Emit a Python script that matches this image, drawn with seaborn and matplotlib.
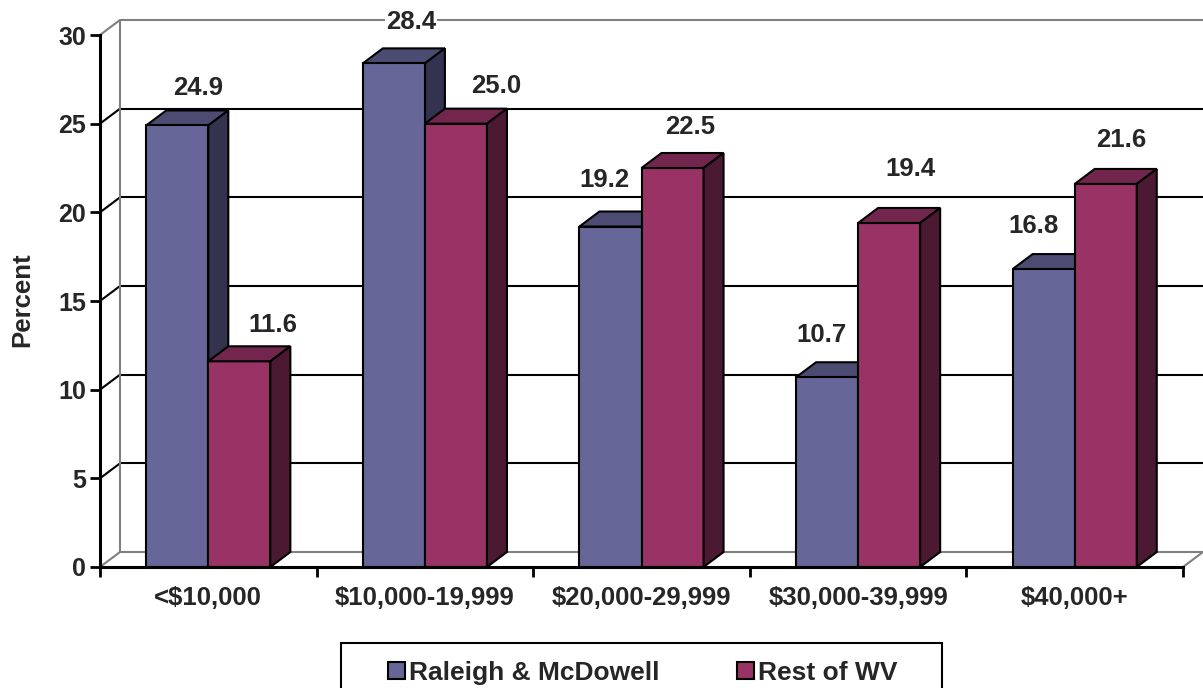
import matplotlib
matplotlib.use('Agg')
import matplotlib.pyplot as plt
from matplotlib.patches import Polygon, Patch, Rectangle
import seaborn as sns
import pandas as pd

# data
categories = ['<$10,000', '$10,000-19,999', '$20,000-29,999', '$30,000-39,999', '$40,000+']
raleigh = [24.9, 28.4, 19.2, 10.7, 16.8]
rest_wv = [11.6, 25.0, 22.5, 19.4, 21.6]
series = ['Raleigh & McDowell', 'Rest of WV']
yticks = [0, 5, 10, 15, 20, 25, 30]

df = pd.DataFrame({
    'income': categories * 2,
    'pct': raleigh + rest_wv,
    'area': [series[0]] * len(categories) + [series[1]] * len(categories),
})

# colours: front / top / side face
front = ['#666699', '#993366']
top = ['#4c4c73', '#73264d']
side = ['#333350', '#4c1933']
gray = '#808080'

# label nudges (px) from the front-centre top of each bar, like Excel put them
nudge = [[(21, 37), (17, 41), (-6, 47), (-6, 42), (-10, 43)],
         [(33, 36), (40, 38), (18, 41), (21, 54), (15, 44)]]

W, H = 1203, 688
sns.set_style('white')
plt.rcParams['font.family'] = ['Liberation Sans', 'DejaVu Sans']

fig = plt.figure(figsize=(W / 100, H / 100), dpi=100)
ax = fig.add_axes([100 / W, (H - 567) / H, 1103 / W, 547 / H])

# depth of the fake 3D in data units
px_x = 1083 / 5
px_y = 532 / 30
dx = 20 / px_x
dy = 15 / px_y

sns.barplot(data=df, x='income', y='pct', hue='area', order=categories,
            hue_order=series, palette=front, saturation=1, width=0.573,
            edgecolor='black', linewidth=1.5, errorbar=None, legend=False, ax=ax)

ax.set_xlim(-0.5, 4.5 + dx)
ax.set_ylim(0, 30 + dy)

# walls + gridlines
for t in yticks:
    c = gray if t in (0, 30) else 'black'
    ax.plot([-0.5, -0.5 + dx], [t, t + dy], color=c, lw=1.5, zorder=0.8, clip_on=False)
    ax.plot([-0.5 + dx, 4.5 + dx], [t + dy, t + dy], color=c, lw=1.5, zorder=0.8, clip_on=False)
ax.plot([-0.5 + dx, -0.5 + dx], [dy, 30 + dy], color=gray, lw=1.5, zorder=0.8)
ax.plot([4.5, 4.5 + dx], [0, dy], color=gray, lw=1.5, zorder=0.8, clip_on=False)

# 3D faces
for k, cont in enumerate(ax.containers):
    for i, p in enumerate(cont):
        p.set_zorder(2)
        x0, w, h = p.get_x(), p.get_width(), p.get_height()
        zo = 1.5 if k == 0 else 2.5
        ax.add_patch(Polygon([(x0, h), (x0 + dx, h + dy), (x0 + w + dx, h + dy), (x0 + w, h)],
                             closed=True, facecolor=top[k], edgecolor='black', lw=1.5, zorder=zo))
        ax.add_patch(Polygon([(x0 + w, 0), (x0 + w + dx, dy), (x0 + w + dx, h + dy), (x0 + w, h)],
                             closed=True, facecolor=side[k], edgecolor='black', lw=1.5, zorder=zo))
        vals = raleigh if k == 0 else rest_wv
        nx, ny = nudge[k][i]
        ax.annotate(f'{vals[i]:.1f}', (x0 + w / 2, vals[i]), xytext=(nx * 0.72, ny * 0.72),
                    textcoords='offset points', ha='center', va='center',
                    fontsize=18.5, fontweight='bold', zorder=5,
                    bbox=dict(facecolor='white', edgecolor='none', pad=1))

# axes
for s in ['top', 'right']:
    ax.spines[s].set_visible(False)
ax.spines['left'].set_bounds(0, 30)
ax.spines['bottom'].set_bounds(-0.5, 4.5)
for s in ['left', 'bottom']:
    ax.spines[s].set_linewidth(2.2)
    ax.spines[s].set_color('black')
    ax.spines[s].set_zorder(3)

ax.set_yticks(yticks)
ax.set_yticklabels([str(t) for t in yticks], fontsize=18, fontweight='bold')
ax.tick_params(axis='y', left=True, length=7, width=2, pad=3, color='black')

ax.set_xticks(range(len(categories)))
ax.set_xticklabels(categories, fontsize=18.5, fontweight='bold')
ax.tick_params(axis='x', which='major', length=0, pad=14)
ax.set_xticks([i - 0.5 for i in range(len(categories) + 1)], minor=True)
ax.tick_params(axis='x', which='minor', bottom=True, length=7, width=2, color='black')
ax.set_xlabel('')
ax.set_ylabel('')

fig.text(22 / W, 1 - 300 / H, 'Percent', rotation=90, ha='center', va='center',
         fontsize=18.5, fontweight='bold')

# legend
handles = [Patch(facecolor=c, edgecolor='black', linewidth=1.5) for c in front]
fig.legend(handles, series, loc='center', bbox_to_anchor=(643 / W, 1 - 673 / H), ncol=2,
           frameon=False, prop={'size': 19, 'weight': 'bold'}, handlelength=0.63,
           handleheight=0.63, handletextpad=0.15, columnspacing=2.95,
           borderaxespad=0, borderpad=0)
fig.add_artist(Rectangle((341 / W, -0.1), 601 / W, (H - 643) / H + 0.1,
                         transform=fig.transFigure, fill=False, edgecolor='black',
                         lw=1.5, clip_on=False))

fig.savefig('out.png', dpi=100)
